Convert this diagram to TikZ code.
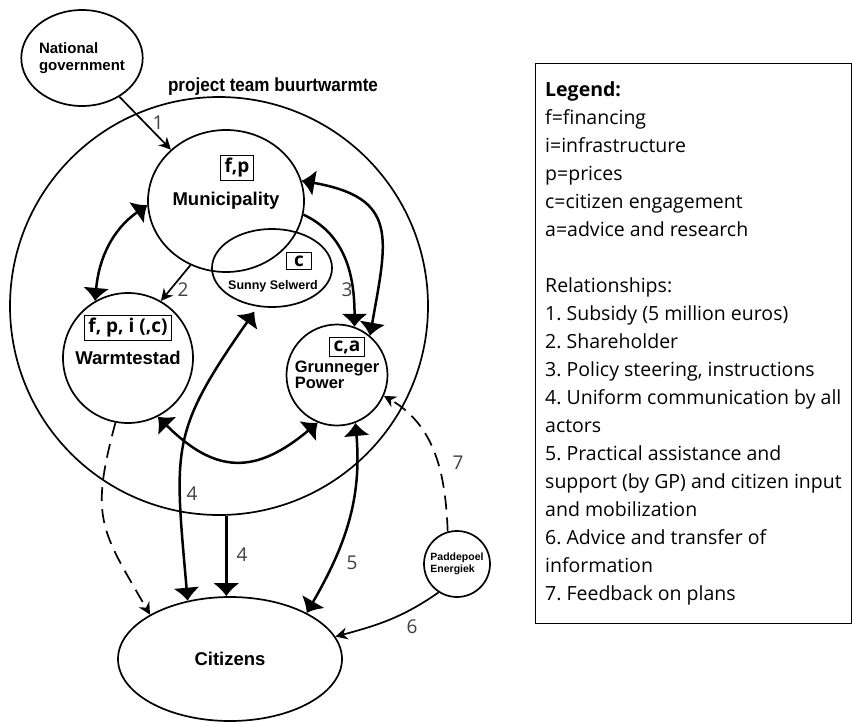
\documentclass[tikz,border=0pt]{standalone}
\usepackage{fontspec}
\setmainfont{Liberation Sans}
\newfontfamily\uifont{Open Sans}
\newfontfamily\narrowfont[FakeStretch=0.9]{Liberation Sans}
\usetikzlibrary{arrows.meta,shapes.geometric,positioning}
\frenchspacing
\tikzset {
  >=Latex,
  actor/.style={draw, ellipse, line width=1.7pt, inner sep=0pt, align=center,
    font=\bfseries\fontsize{18.5}{20}\selectfont},
  tag/.style={draw, line width=0.8pt, inner xsep=4pt, inner ysep=3pt,
    font=\uifont\bfseries\fontsize{19}{19}\selectfont},
  num/.style={font=\uifont\fontsize{19}{19}\selectfont, text=black!75},
  link/.style={line width=2.5pt},
  thinlink/.style={line width=1.7pt},
  bigtip/.tip={Latex[length=13pt,width=27pt]},
  smalltip/.tip={Stealth[length=12pt,width=12pt]},
}

\begin{document}
\begin{tikzpicture}[x=1pt,y=-1pt]
  \useasboundingbox (0,0) rectangle (852,721);

  % actors
  \node[actor, minimum width=114pt, minimum height=96pt,
    font=\bfseries\fontsize{15}{17}\selectfont, align=left] (nat) at (82,58)
    {National\\government};
  \node[font=\narrowfont\bfseries\fontsize{19}{19}\selectfont] (title) at (273,87)
    {project team buurtwarmte};
  \node[actor, circle, minimum size=418pt] (team) at (219,306) {};
  \node[actor, minimum width=156pt, minimum height=142pt] (muni) at (226,201)
    {\raisebox{-6pt}{Municipality}};
  \node[actor, minimum width=120pt, minimum height=78pt] (sunny) at (272,268) {};
  \node[font=\bfseries\fontsize{12.5}{12}\selectfont] (sunnytext) at (273,286)
    {Sunny Selwerd};
  \node[actor, circle, minimum size=130pt] (warm) at (128,358)
    {\raisebox{-4pt}{Warmtestad}};
  \node[actor, circle, minimum size=101pt, align=left,
    font=\bfseries\fontsize{16.5}{20}\selectfont] (gp) at (337,375)
    {\raisebox{-4pt}{Grunneger}\\Power};
  \node[actor, minimum width=224pt, minimum height=124pt] (cit) at (230,659)
    {Citizens};
  \node[actor, circle, minimum size=66pt, align=left,
    font=\bfseries\fontsize{10.5}{12}\selectfont] (pad) at (457,564)
    {Paddepoel\\Energiek};

  % tags
  \node[tag] (fp) at (237,168) {f,p};
  \node[tag, minimum width=25pt] (fpic) at (128,328) {f, p, i (,c)};
  \node[tag, minimum width=25pt] (c) at (299,261) {c};
  \node[tag] (ca) at (347,347) {c,a};

  % relationships
  \draw[thinlink,-smalltip] (nat.-46) -- (muni.137);
  \draw[thinlink,-smalltip] (muni.-119) -- (warm.60);
  \draw[link,bigtip-bigtip] (muni.183) to[out=215,in=85] (warm.120);
  \draw[link,-bigtip] (muni.-10) to[out=-25,in=90] (gp.70);
  \draw[link,bigtip-bigtip] (muni.15) to[out=-10,in=80,looseness=1.5] (gp.50);
  \draw[link,bigtip-bigtip] (warm.-63) to[out=-45,in=-140,looseness=1.3] (gp.-112);
  \draw[link,bigtip-bigtip,shorten <=6pt] (sunny.-110)
    to[out=-125,in=95,looseness=1.3] (cit.126);
  \draw[link,-bigtip] (team.-88.4) -- (team.-88.4 |- cit.north);
  \draw[link,bigtip-bigtip] (gp.-69) to[out=-85,in=60] (cit.31);
  \draw[thinlink,-smalltip] (pad.-123) to[out=-145,in=15] (cit.12);
  \draw[thinlink,-smalltip,dash pattern=on 14pt off 8pt] (pad.106)
    to[out=92,in=-30] (gp.-24);
  \draw[thinlink,-smalltip,dash pattern=on 14pt off 8pt] (warm.-101)
    to[out=-105,in=120,looseness=1.3] (cit.151);

  % numbers
  \node[num] (n1) at (158,123) {1};
  \node[num] (n2) at (183,290) {2};
  \node[num] (n3) at (347,290) {3};
  \node[num] (n4a) at (192,494) {4};
  \node[num] (n4b) at (242,555) {4};
  \node[num] (n5) at (352,563) {5};
  \node[num] (n6) at (412,627) {6};
  \node[num] (n7) at (458,463) {7};

  % legend
  \node[draw, line width=1.2pt, anchor=north west, inner sep=0pt,
    minimum width=316pt, minimum height=560pt] (legend) at (535,63) {};
  \node[anchor=north west, align=left, inner sep=0pt,
    font=\uifont\fontsize{19.5}{28}\selectfont] (legtext) at (545,81)
    {{\bfseries Legend:}\\
     f=financing\\
     i=infrastructure\\
     p=prices\\
     c=citizen engagement\\
     a=advice and research\\[28pt]
     Relationships:\\
     1. Subsidy (5 million euros)\\
     2. Shareholder\\
     3. Policy steering, instructions\\
     4. Uniform communication by all\\
     actors\\
     5. Practical assistance and\\
     support (by GP) and citizen input\\
     and mobilization\\
     6. Advice and transfer of\\
     information\\
     7. Feedback on plans};
\end{tikzpicture}
\end{document}
